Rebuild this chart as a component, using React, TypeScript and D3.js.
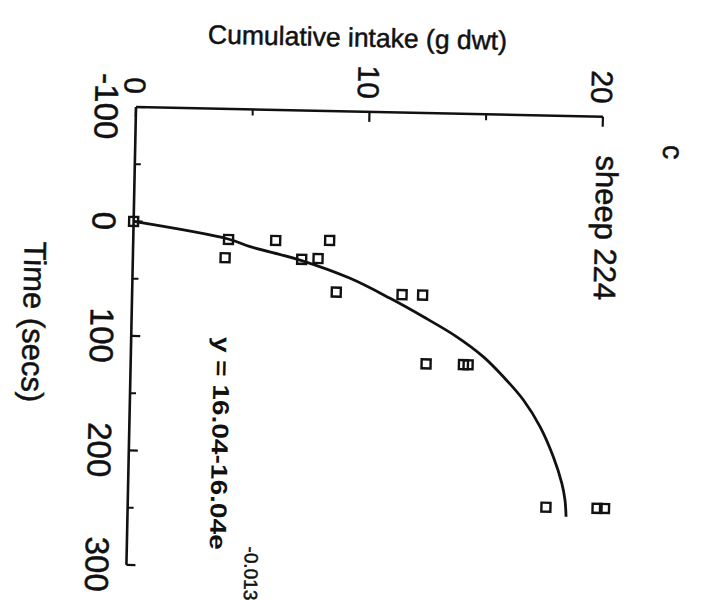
import React from 'react';
import * as d3 from 'd3';

// Data (original chart: x = Time (secs), y = Cumulative intake (g dwt)); figure is rotated 90° cw
const timeDomain: [number, number] = [-100, 300];
const intakeDomain: [number, number] = [0, 20];
const timeTicksMajor = [-100, 0, 100, 200, 300];
const timeTicksMinor = [-50, 50, 150, 250];
const intakeTicksMajor = [0, 10, 20];
const intakeTicksMinor = [5, 15];
const timeTickLabels = ['-100', '0', '100', '200', '300'];
const intakeTickLabels = ['0', '10', '20'];

const obsTime = [0, 14, 30, 14, 30, 29, 13, 58, 59, 59, 119, 119, 119, 242, 242, 242];
const obsIntake = [0, 4.08, 3.95, 6.1, 7.23, 7.93, 8.41, 8.74, 11.56, 12.44, 12.65, 14.25, 14.45, 17.91, 20.1, 20.42];

const fitTime = [0, 13.6, 19.9, 30.7, 45.7, 62.4, 77.9, 94.8, 111.8, 128.8, 148.8, 171.9, 197.8, 220.9, 235.4, 250];
const fitIntake = [0, 4.06, 5.01, 7.16, 9.32, 11.05, 12.49, 13.94, 15.1, 15.97, 16.85, 17.59, 18.18, 18.57, 18.72, 18.78];

const FONT = "'Liberation Sans', Arial, Helvetica, sans-serif";
const INK = '#111';

export default function App() {
  const W = 727;
  const H = 600;
  const x = d3.scaleLinear().domain(intakeDomain).range([136, 603]);
  const y = d3.scaleLinear().domain(timeDomain).range([107, 565]);
  const x0 = x(0);
  const y0 = y(timeDomain[0]);

  const idx = d3.range(fitTime.length);
  const line = d3
    .line<number>()
    .x((i) => x(fitIntake[i]))
    .y((i) => y(fitTime[i]))
    .curve(d3.curveCatmullRom.alpha(0.5));

  const box = 9;
  const textInk = { fill: INK, stroke: INK, strokeWidth: 0.5 };

  return (
    <svg
      width={W}
      height={H}
      style={{ position: 'absolute', left: 0, top: 0, background: '#fff' }}
      fontFamily={FONT}
    >
      <rect x={0} y={0} width={W} height={H} fill="#fff" />
      <g transform="rotate(1.2,137,108)">
        {/* title */}
        <text x={356} y={42} fontSize={26.5} textAnchor="middle" {...textInk}>
          Cumulative intake (g dwt)
        </text>

        {/* axes lines */}
        <line x1={x0} y1={y0} x2={x(intakeDomain[1])} y2={y0} stroke={INK} strokeWidth={2.6} />
        <line x1={x0} y1={y0} x2={x0} y2={y(timeDomain[1])} stroke={INK} strokeWidth={2.6} />

        {/* intake ticks (top axis, pointing inward/down) */}
        {intakeTicksMajor.map((v) => (
          <line key={'im' + v} x1={x(v)} x2={x(v)} y1={y0} y2={y0 + 10} stroke={INK} strokeWidth={2.2} />
        ))}
        {intakeTicksMinor.map((v) => (
          <line key={'in' + v} x1={x(v)} x2={x(v)} y1={y0} y2={y0 + 6} stroke={INK} strokeWidth={2} />
        ))}
        {intakeTicksMajor.map((v, i) => (
          <text
            key={'il' + v}
            transform={`translate(${x(v) - 12},${y0 - 13}) rotate(90)`}
            fontSize={30}
            textAnchor="end"
            {...textInk}
          >
            {intakeTickLabels[i]}
          </text>
        ))}

        {/* time ticks (left axis, pointing inward/right) */}
        {timeTicksMajor.map((t) => (
          <line key={'tm' + t} x1={x0} x2={x0 + 9} y1={y(t)} y2={y(t)} stroke={INK} strokeWidth={2.2} />
        ))}
        {timeTicksMinor.map((t) => (
          <line key={'tn' + t} x1={x0} x2={x0 + 6} y1={y(t)} y2={y(t)} stroke={INK} strokeWidth={2} />
        ))}
        {timeTicksMajor.map((t, i) => (
          <text
            key={'tl' + t}
            transform={`translate(95,${y(t)}) rotate(90)`}
            fontSize={33}
            textAnchor="middle"
            {...textInk}
          >
            {timeTickLabels[i]}
          </text>
        ))}

        {/* axis title for time */}
        <text transform="translate(27.5,324) rotate(90)" fontSize={31} textAnchor="middle" {...textInk}>
          Time (secs)
        </text>

        {/* panel annotations */}
        <text transform="translate(664,141) rotate(90)" fontSize={29} textAnchor="middle" {...textInk}>
          c
        </text>
        <text transform="translate(597.5,218) rotate(90)" fontSize={31} textAnchor="middle" {...textInk}>
          sheep 224
        </text>

        {/* equation */}
        <text
          transform="translate(219,335) rotate(90)"
          fontSize={23}
          fontWeight="bold"
          textAnchor="start"
          fill={INK}
          textLength={213}
          lengthAdjust="spacingAndGlyphs"
        >
          y = 16.04-16.04e
        </text>
        <text transform="translate(254,544) rotate(90)" fontSize={19} textAnchor="start" {...textInk}>
          -0.013
        </text>

        {/* fitted curve */}
        <path d={line(idx) || ''} fill="none" stroke={INK} strokeWidth={2.8} strokeLinecap="butt" />

        {/* observations */}
        {obsTime.map((t, i) => (
          <rect
            key={'p' + i}
            x={x(obsIntake[i]) - box / 2}
            y={y(t) - box / 2}
            width={box}
            height={box}
            fill="none"
            stroke={INK}
            strokeWidth={2.4}
          />
        ))}
      </g>
    </svg>
  );
}
